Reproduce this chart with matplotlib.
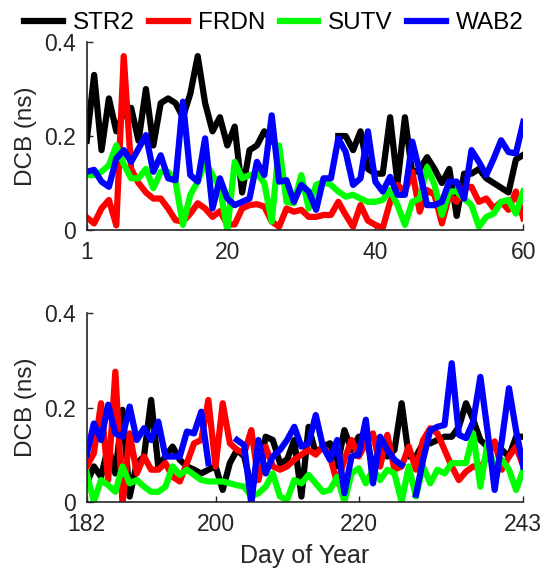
import numpy as np
import matplotlib.pyplot as plt

nan = np.nan

# days of year
days_top = np.arange(1, 61)
days_bot = np.arange(182, 244)

# DCB values (ns), days 1-60
str2_top = [0.19, 0.33, 0.17, 0.28, 0.21, 0.25, 0.26, 0.19, 0.30, 0.18,
            0.27, 0.28, 0.27, 0.24, 0.29, 0.37, 0.27, 0.21, 0.24, 0.18,
            0.22, 0.08, 0.17, 0.18, 0.21, 0.19, nan, nan, nan, nan,
            nan, nan, nan, nan, 0.20, 0.20, 0.17, 0.21, 0.13, 0.12,
            0.12, 0.24, 0.10, 0.24, 0.12, 0.13, 0.155, 0.13, 0.10, 0.13,
            0.03, 0.12, 0.12, 0.13, 0.11, 0.10, 0.09, 0.08, 0.15, 0.16]
frdn_top = [0.027, 0.014, 0.046, 0.064, 0.01, 0.37, 0.13, 0.10, 0.08, 0.067,
            0.067, 0.046, 0.021, 0.018, 0.035, 0.057, 0.046, 0.028, 0.04, 0.012,
            0.012, 0.046, 0.053, 0.055, 0.05, 0.018, 0.007, 0.046, 0.039, 0.043,
            0.028, 0.028, 0.032, 0.032, 0.06, 0.032, 0.007, 0.053, 0.02, 0.011,
            0.004, 0.06, 0.096, 0.082, 0.124, 0.039, 0.085, 0.075, 0.014, 0.075,
            0.06, 0.089, 0.092, 0.06, 0.067, 0.046, 0.06, 0.043, 0.082, 0.025]
sutv_top = [0.117, 0.117, 0.124, 0.138, 0.18, 0.14, 0.11, 0.11, 0.13, 0.089,
            0.124, 0.124, 0.103, 0.011, 0.075, 0.103, 0.145, 0.117, 0.09, 0.0,
            0.145, 0.11, 0.117, 0.12, 0.10, 0.018, 0.18, 0.06, 0.057, 0.117,
            0.046, 0.096, 0.103, 0.096, 0.082, 0.071, 0.075, 0.067, 0.06, 0.06,
            0.064, 0.085, 0.053, 0.011, 0.06, 0.067, 0.134, 0.096, 0.032, 0.082,
            0.082, 0.067, 0.053, 0.007, 0.028, 0.035, 0.06, 0.064, 0.035, 0.082]
wab2_top = [0.124, 0.128, 0.103, 0.092, 0.152, 0.17, 0.145, 0.173, 0.202, 0.124,
            0.159, 0.11, 0.106, 0.273, 0.117, 0.103, 0.195, 0.046, 0.11, 0.067,
            0.053, 0.06, 0.067, 0.145, 0.117, 0.244, 0.103, 0.106, 0.06, 0.096,
            0.082, 0.043, 0.11, 0.11, 0.195, 0.166, 0.096, 0.11, 0.21, 0.103,
            0.082, 0.113, 0.075, 0.075, 0.188, 0.124, 0.053, 0.053, 0.06, 0.103,
            0.103, 0.067, 0.17, 0.145, 0.117, 0.152, 0.191, 0.166, 0.163, 0.23]

# DCB values (ns), days 182-243
str2_bot = [0.039, 0.075, 0.053, 0.117, 0.06, 0.195, 0.011, 0.082, 0.096, 0.216,
            0.075, 0.096, 0.117, 0.089, 0.075, 0.068, 0.06, 0.068, 0.075, 0.025,
            0.082, 0.11, 0.096, 0.032, 0.06, 0.138, 0.131, 0.082, 0.089, 0.131,
            0.011, 0.159, 0.103, 0.117, 0.124, 0.075, 0.152, 0.11, 0.138, 0.138,
            0.075, 0.11, 0.096, 0.11, 0.209, 0.096, 0.096, 0.124, 0.124, 0.131,
            0.138, 0.138, 0.159, 0.209, 0.174, 0.131, 0.117, 0.124, 0.11, 0.096,
            0.138, 0.138]
frdn_bot = [0.075, 0.103, 0.209, 0.046, 0.276, -0.005, 0.145, 0.06, 0.096, 0.068,
            0.068, 0.082, 0.053, 0.043, 0.082, 0.124, 0.131, 0.216, 0.075, 0.209,
            0.124, 0.11, 0.103, 0.152, 0.046, 0.117, 0.075, 0.068, 0.075, 0.089,
            0.10, 0.11, 0.10, 0.117, 0.096, 0.039, 0.089, 0.131, 0.096, 0.124,
            0.145, 0.075, 0.142, 0.068, 0.075, 0.117, 0.068, 0.131, 0.156, 0.145,
            0.11, 0.075, 0.046, 0.064, 0.075, 0.071, 0.096, 0.128, 0.068, 0.096,
            0.117, 0.075]
sutv_bot = [0.06, 0.0, 0.046, 0.035, 0.021, 0.075, 0.039, 0.046, 0.032, 0.021,
            0.021, 0.032, 0.075, 0.057, 0.068, 0.057, 0.046, 0.043, 0.043, 0.043,
            0.039, 0.035, 0.032, 0.011, 0.018, 0.032, 0.06, 0.011, 0.004, 0.046,
            0.039, 0.057, 0.039, 0.021, 0.025, 0.053, 0.0, 0.06, 0.071, 0.039,
            0.068, 0.046, 0.068, 0.06, 0.0, 0.075, 0.011, 0.075, 0.039, 0.068,
            0.06, 0.082, 0.082, 0.082, 0.145, 0.032, 0.124, 0.068, 0.089, 0.068,
            0.025, 0.068]
wab2_bot = [0.10, 0.166, 0.131, 0.206, 0.145, 0.138, 0.202, 0.131, 0.156, 0.131,
            0.17, 0.096, 0.096, 0.096, 0.149, 0.145, 0.191, 0.082, nan, nan,
            nan, 0.131, 0.12, -0.005, 0.131, 0.06, 0.096, 0.11, 0.131, 0.159,
            0.117, 0.124, 0.184, 0.117, 0.089, 0.131, 0.018, 0.096, 0.10, 0.174,
            0.039, 0.138, 0.11, 0.089, 0.078, nan, 0.015, 0.089, 0.152, 0.159,
            0.163, 0.294, 0.142, 0.135, 0.17, 0.265, 0.15, 0.025, 0.13, 0.241,
            0.15, 0.075]

names = ["STR2", "FRDN", "SUTV", "WAB2"]
colors = ["#000000", "#ff0000", "#00ff00", "#0000ff"]

plt.rcParams['font.family'] = ['Liberation Sans', 'DejaVu Sans']
gray = "#262626"

fig = plt.figure(figsize=(5.42, 5.68), dpi=100)
ax1 = fig.add_axes([0.16, 0.595, 0.8055, 0.331])
ax2 = fig.add_axes([0.16, 0.1167, 0.8055, 0.3317])

top = [str2_top, frdn_top, sutv_top, wab2_top]
bot = [str2_bot, frdn_bot, sutv_bot, wab2_bot]

for i in range(4):
    ax1.plot(days_top, top[i], color=colors[i], lw=4.5, label=names[i])
    ax2.plot(days_bot, bot[i], color=colors[i], lw=4.5)

ax1.set_xlim(1, 60)
ax1.set_xticks([1, 20, 40, 60])
ax2.set_xlim(182, 243)
ax2.set_xticks([182, 200, 220, 243])

for ax in (ax1, ax2):
    ax.set_ylim(0, 0.4)
    ax.set_yticks([0, 0.2, 0.4])
    ax.set_yticklabels(["0", "0.2", "0.4"])
    ax.spines['top'].set_visible(False)
    ax.spines['right'].set_visible(False)
    for s in ('left', 'bottom'):
        ax.spines[s].set_color(gray)
        ax.spines[s].set_linewidth(1.2)
    ax.tick_params(direction='in', length=4, width=1, colors=gray,
                   labelsize=16.5)
    ax.tick_params(axis='x', pad=8)
    ax.tick_params(axis='y', pad=8)
    ax.set_ylabel("DCB (ns)", fontsize=17.5, color=gray)
    ax.yaxis.set_label_coords(-0.114, 0.5)

ax2.set_xlabel("Day of Year", fontsize=18, color=gray, va='top')
ax2.xaxis.set_label_coords(0.5, -0.225)

fig.legend(loc='center', bbox_to_anchor=(0.505, 0.9595), ncol=4, frameon=False,
           fontsize=17.5, handlelength=1.6, handletextpad=0.4, columnspacing=0.6)

fig.savefig("out.png", dpi=100)
